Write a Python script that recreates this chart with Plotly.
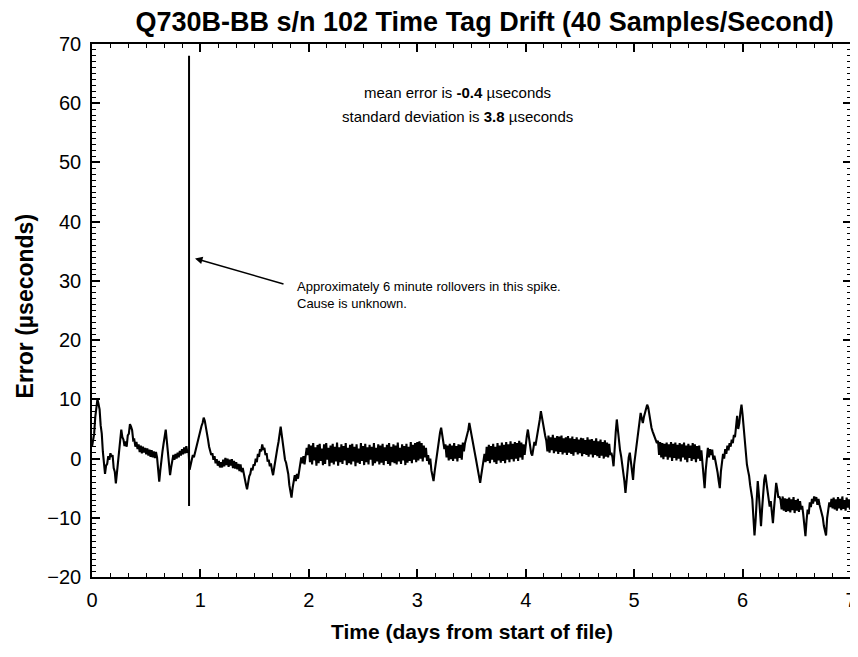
import plotly.graph_objects as go

# ---------------- data ----------------
step_days = 0.01

err_day0 = [2.0, 3.4, 4.2, 7.0, 8.2, 10.0, 9.2, 8.3, 5.6, 4.2,
            1.2, -0.8, -2.6, -1.2, -0.9, 0.4, -0.2, 0.9, 0.3, 0.6,
            -1.6, -2.2, -4.2, -2.4, -0.3, 1.8, 2.8, 4.9, 3.6, 3.2,
            2.1, 2.9, 2.0, 3.9, 4.2, 5.8, 5.4, 4.8, 3.1, 3.2,
            2.0, 2.8, 1.6, 2.4, 1.1, 2.2, 0.9, 2.0, 1.0, 1.8,
            0.7, 1.7, 0.5, 1.5, 0.3, 1.4, 0.2, 1.2, 0.1, 1.1,
            0.2, -1.5, -3.9, -2.0, 0.0, 1.2, 2.5, 3.6, 4.9, 3.0,
            0.8, -1.2, -2.8, -1.5, -0.2, 0.6, -0.2, 0.8, 0.0, 1.0,
            0.2, 1.3, 0.5, 1.6, 0.7, 1.9, 0.9, 2.1, 1.0, 1.4,
            -1.9, -1.0, -0.3, 0.6, 0.2, 1.0, 1.5, 2.2, 3.2, 3.9]
err_day1 = [4.6, 5.5, 6.0, 6.9, 6.4, 5.5, 4.0, 3.2, 2.0, 1.2,
            0.6, 0.9, -0.2, 0.4, -0.8, -0.1, -1.2, -0.4, -1.5, -0.6,
            -1.5, -0.2, -1.3, 0.1, -1.1, 0.0, -1.4, -0.2, -1.2, -0.1,
            -1.6, -0.4, -1.7, -0.6, -1.8, -0.9, -2.1, -1.0, -2.3, -1.6,
            -2.8, -3.5, -4.4, -5.2, -4.0, -3.0, -2.6, -1.6, -2.0, -1.0,
            -1.2, 0.0, -0.6, 0.8, 0.3, 1.6, 1.2, 2.4, 1.5, 1.8,
            0.6, 0.9, -0.5, -0.2, -1.3, -0.8, -2.0, -2.8, -1.6, -0.2,
            0.8, 1.8, 2.8, 4.2, 5.4, 4.0, 2.2, 1.0, -0.2, -0.7,
            -1.4, -2.6, -4.5, -5.8, -6.6, -5.0, -3.6, -2.8, -3.8, -2.6,
            -3.4, -2.0, -1.4, 0.2, -0.8, 0.4, -1.0, 0.8, 1.8, 0.6]
err_day2 = [2.4, -0.6, 2.2, -1.0, 2.6, -0.3, 1.9, -1.2, 2.3, -0.8,
            2.5, -0.4, 1.7, -1.1, 2.4, -0.9, 2.6, -0.2, 1.8, -1.3,
            2.2, -0.7, 2.5, -1.0, 2.0, -0.5, 2.7, -1.2, 1.9, -0.6,
            2.4, -0.9, 2.1, -0.3, 2.6, -1.1, 1.8, -0.8, 2.3, -1.0,
            2.5, -0.5, 2.0, -1.3, 2.4, -0.7, 1.7, -0.9, 2.6, -0.4,
            2.1, -1.1, 2.5, -0.6, 1.9, -1.0, 2.3, -0.2, 2.0, -1.2,
            2.6, -0.8, 1.8, -0.5, 2.4, -1.0, 2.2, -0.7, 2.5, -1.1,
            1.9, -0.4, 2.3, -0.9, 2.6, -1.2, 2.0, -0.6, 2.4, -0.8,
            2.2, -1.0, 2.7, -0.5, 1.8, -0.9, 2.4, -0.3, 2.1, -1.1,
            2.5, -0.7, 2.0, -0.4, 2.8, -0.8, 2.3, -0.2, 2.6, -0.6]
err_day3 = [2.8, -0.3, 2.9, 0.0, 2.6, -0.5, 2.2, 0.2, 1.8, -0.4,
            0.6, -1.0, 0.0, -2.0, -3.0, -3.8, -2.2, -0.8, 0.8, 2.2,
            3.4, 4.4, 5.2, 4.0, 2.8, 1.6, 2.4, 0.2, 2.2, -0.3,
            2.5, -0.1, 2.2, -0.4, 2.6, 0.0, 2.1, -0.5, 2.4, 0.1,
            2.3, -0.2, 2.7, 1.2, 2.6, 3.2, 4.2, 4.8, 6.0, 5.2,
            4.0, 3.0, 2.2, 1.0, 0.0, -1.0, -2.2, -3.2, -4.1, -2.8,
            -1.6, -0.2, 0.8, -0.6, 2.0, -0.4, 2.3, -0.8, 2.1, -0.2,
            2.5, -0.6, 2.0, -0.9, 2.6, -0.3, 2.2, -0.7, 2.7, -0.4,
            2.3, -0.8, 2.8, -0.2, 2.4, -0.6, 2.9, -0.1, 2.5, -0.5,
            2.8, 0.0, 2.6, -0.4, 3.0, 0.2, 2.7, -0.2, 2.4, 0.6]
err_day4 = [2.5, 3.8, 4.9, 3.2, 1.8, 0.9, 0.5, 1.6, 2.8, 2.2,
            3.2, 4.4, 5.4, 6.6, 8.0, 6.8, 5.6, 4.6, 3.8, 3.0,
            1.2, 3.9, 1.0, 3.6, 1.4, 4.0, 0.9, 3.5, 1.2, 3.8,
            0.8, 3.7, 1.1, 3.9, 0.7, 3.4, 1.0, 3.6, 0.6, 3.8,
            1.0, 3.4, 0.8, 3.7, 0.5, 3.3, 1.1, 3.6, 0.7, 3.2,
            0.9, 3.5, 0.4, 3.4, 0.8, 3.1, 0.6, 3.6, 0.3, 3.2,
            0.7, 3.3, 0.2, 3.0, 0.6, 3.4, 0.4, 2.9, 0.1, 3.2,
            0.5, 2.8, 0.0, 3.1, 0.3, 2.7, 0.2, 2.5, 0.6, 1.0,
            0.2, -1.3, 2.2, 4.4, 6.6, 4.6, 2.8, 1.4, 0.4, -0.8,
            -2.0, -3.8, -5.8, -3.8, -1.4, 0.2, 1.0, -0.8, -2.2, -3.6]
err_day5 = [-1.0, 0.5, 2.0, 4.0, 5.6, 6.6, 7.7, 6.8, 6.0, 7.0,
            7.6, 8.4, 9.1, 8.6, 7.2, 6.0, 5.2, 4.6, 4.0, 3.6,
            3.2, 2.6, 3.0, 0.6, 2.8, 0.2, 2.6, -0.1, 2.5, 0.3,
            2.7, -0.2, 2.4, 0.2, 2.8, -0.4, 2.5, 0.1, 2.7, -0.3,
            2.3, 0.0, 2.6, -0.5, 2.4, 0.2, 2.7, -0.2, 2.2, -0.6,
            2.5, 0.1, 2.2, -0.4, 2.6, -0.1, 2.4, -0.6, 2.1, 0.0,
            2.2, -0.4, 1.4, -1.0, -2.6, -5.0, -2.0, 0.4, 1.8, 0.2,
            1.6, 0.6, 1.5, -0.2, 0.5, -0.4, -1.2, -2.4, -3.8, -5.0,
            -2.2, -0.4, 0.8, 0.0, 1.6, 0.8, 2.2, 1.4, 2.6, 2.0,
            3.2, 2.6, 4.0, 3.6, 5.2, 7.2, 5.0, 6.0, 7.8, 9.1]
err_day6 = [7.4, 5.0, 2.4, 0.4, -1.0, -2.0, -2.9, -4.5, -6.0, -6.9,
            -10.0, -13.0, -10.5, -7.0, -3.8, -6.0, -9.0, -11.4, -8.5, -5.5,
            -3.6, -2.7, -4.2, -5.5, -6.8, -8.1, -7.2, -9.0, -10.9, -8.4,
            -6.0, -4.1, -5.2, -6.6, -6.4, -7.0, -8.6, -6.4, -8.8, -6.7,
            -9.0, -6.8, -8.9, -6.6, -9.1, -6.9, -8.7, -6.5, -9.2, -7.0,
            -8.8, -6.8, -9.0, -7.2, -8.6, -8.0, -9.5, -11.0, -13.1, -10.5,
            -8.6, -9.4, -7.4, -8.2, -6.8, -7.6, -6.4, -7.2, -6.5, -7.8,
            -6.8, -7.8, -8.4, -9.2, -10.0, -11.4, -12.0, -13.0, -10.0, -8.6,
            -7.4, -8.2, -6.8, -8.4, -6.6, -8.6, -6.9, -8.8, -6.5, -8.4,
            -6.8, -8.7, -6.4, -8.5, -7.0, -8.8, -6.6, -8.3, -6.9, -8.6]
err_end = [-7.6]

spike_t = [0.895, 0.895]
spike_err = [-8.0, 68.0]

x_ticks = [0, 1, 2, 3, 4, 5, 6, 7]
y_ticks = [-20, -10, 0, 10, 20, 30, 40, 50, 60, 70]

# ------------------------------------------------------------------------
days = [err_day0, err_day1, err_day2, err_day3, err_day4, err_day5, err_day6]
t_vals, e_vals = [], []
for d, vals in enumerate(days):
    for i, v in enumerate(vals):
        t_vals.append(round(d + i * step_days, 4))
        e_vals.append(v)
t_vals.append(7.0)
e_vals.extend(err_end)

FONT = "Liberation Sans, Arial, sans-serif"

fig = go.Figure()
fig.add_trace(go.Scatter(x=t_vals, y=e_vals, mode="lines",
                         line=dict(color="black", width=2.1),
                         showlegend=False, hoverinfo="skip"))
fig.add_trace(go.Scatter(x=spike_t, y=spike_err, mode="lines",
                         line=dict(color="black", width=2),
                         showlegend=False, hoverinfo="skip"))

axis_common = dict(
    showline=True, linecolor="black", linewidth=1.5, mirror="ticks",
    ticks="inside", tickcolor="black", tickwidth=1.5, ticklen=8,
    showgrid=False, zeroline=False, automargin=False,
    tickfont=dict(family=FONT, size=20, color="black"),
)

fig.update_xaxes(range=[0, 7], tickvals=x_ticks, ticklabelstandoff=4,
                 minor=dict(dtick=1/6, tick0=0, ticks="inside", ticklen=4,
                            tickcolor="black", tickwidth=1.2, showgrid=False),
                 **axis_common)
fig.update_yaxes(range=[-20, 70], tickvals=y_ticks, ticklabelstandoff=5,
                 minor=dict(dtick=1, tick0=0, ticks="inside", ticklen=4,
                            tickcolor="black", tickwidth=1.2, showgrid=False),
                 **axis_common)

# axis titles
fig.add_annotation(x=0.5, y=-0.103, xref="paper", yref="paper", showarrow=False,
                   xanchor="center", yanchor="middle",
                   text="<b>Time (days from start of file)</b>",
                   font=dict(family=FONT, size=21, color="black"))
fig.add_annotation(x=-0.088, y=0.508, xref="paper", yref="paper", showarrow=False,
                   xanchor="center", yanchor="middle", textangle=-90,
                   text="<b>Error (µseconds)</b>",
                   font=dict(family=FONT, size=23, color="black"))

fig.add_annotation(x=3.37, y=61.8, xref="x", yref="y", showarrow=False,
                   text="mean error is <b>-0.4</b> µseconds",
                   font=dict(family=FONT, size=15, color="black"))
fig.add_annotation(x=3.37, y=57.8, xref="x", yref="y", showarrow=False,
                   text="standard deviation is <b>3.8</b> µseconds",
                   font=dict(family=FONT, size=15, color="black"))

fig.add_annotation(x=0.95, y=33.8, ax=1.78, ay=29.4, xref="x", yref="y",
                   axref="x", ayref="y", showarrow=True, arrowhead=2,
                   arrowsize=1, arrowwidth=1.5, arrowcolor="black", text="")
fig.add_annotation(x=1.873, y=27.7, xref="x", yref="y", showarrow=False,
                   xanchor="left", yanchor="middle", align="left",
                   text="Approximately 6 minute rollovers in this spike.<br>Cause is unknown.",
                   font=dict(family=FONT, size=13, color="black"))

fig.update_layout(
    width=858, height=657,
    margin=dict(l=84, r=15, t=36, b=88),
    paper_bgcolor="white", plot_bgcolor="white",
    title=dict(text="<b>Q730B-BB s/n 102 Time Tag Drift (40 Samples/Second)</b>",
               x=0.5555, xanchor="center", y=0.979, yanchor="middle",
               font=dict(family=FONT, size=27, color="black")),
    font=dict(family=FONT, color="black"),
)

fig.write_html("out.html")
